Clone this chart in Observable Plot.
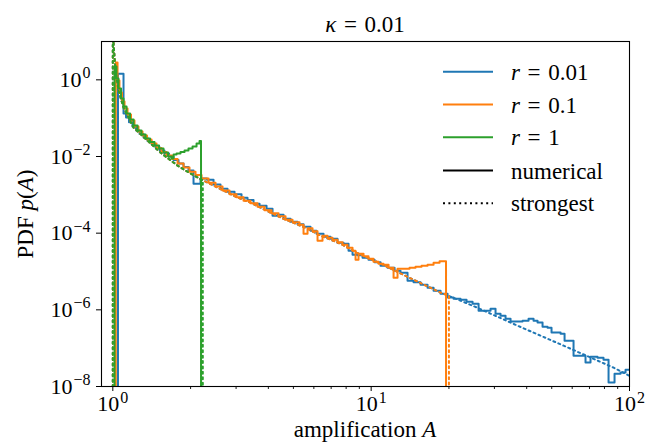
<!DOCTYPE html>
<html><head><meta charset="utf-8">
<script src="https://cdn.jsdelivr.net/npm/d3@7"></script>
<script src="https://cdn.jsdelivr.net/npm/@observablehq/plot@0.6"></script>
<style>body{margin:0;background:#fff} svg{display:block}</style>
</head><body><div id="chart"></div>
<script>
// ---------- data ----------
const kappaText = "0.01";
const rLabels = ["0.01", "0.1", "1"];
const colors = ["#1f77b4", "#ff7f0e", "#2ca02c"];
const xDomain = [0.904, 100];
const yDomain = [1e-8, 10];
const xMajorTicks = [1, 10, 100];
const xMajorExp = ["0", "1", "2"];
const xMinorTicks = [2, 3, 4, 5, 6, 7, 8, 9, 20, 30, 40, 50, 60, 70, 80, 90];
const yMajorTicks = [1, 1e-2, 1e-4, 1e-6, 1e-8];
const yMajorExp = ["0", "\u22122", "\u22124", "\u22126", "\u22128"];

// numerical histograms (left bin edge A, density p)
const blueA = [1.047, 1.047, 1.100, 1.125, 1.155, 1.192, 1.230, 1.269, 1.315, 1.362, 1.412, 1.463, 1.522, 1.585, 1.651, 1.718, 1.796, 1.878, 1.963, 2.053, 2.185, 2.315, 2.454, 2.611, 2.780, 2.959, 3.149, 3.322, 3.505, 3.698, 3.936, 4.152, 4.341, 4.580, 4.875, 5.188, 5.473, 5.825, 6.145, 6.540, 6.961, 7.409, 7.818, 8.174, 8.471, 8.858, 9.262, 9.768, 10.31, 10.87, 11.57, 12.32, 12.99, 13.83, 14.59, 15.53, 16.53, 17.44, 18.56, 19.76, 20.84, 22.18, 23.40, 24.69, 26.05, 27.72, 28.98, 30.30, 31.68, 33.13, 34.64, 36.54, 38.55, 40.67, 42.52, 44.06, 46.07, 48.17, 49.91, 52.19, 54.10, 56.06, 58.08, 60.73, 64.63, 67.57, 70.65, 75.19, 79.32, 82.97, 87.52, 92.33, 96.54, 101];
const blueP = [1e-9, 1.435, 0.132, 0.104, 0.0782, 0.0604, 0.0475, 0.0385, 0.0311, 0.0252, 0.0211, 0.0171, 0.01426, 0.01191, 0.00994, 0.00805, 0.00653, 0.00529, 0.00429, 0.00196, 0.00265, 0.00249, 0.00185, 0.00145, 0.00121, 0.00104, 8.45e-4, 7.28e-4, 5.89e-4, 5.22e-4, 4.36e-4, 2.86e-4, 3.04e-4, 2.39e-4, 2.00e-4, 1.72e-4, 1.48e-4, 1.16e-4, 9.70e-5, 8.10e-5, 7.18e-5, 5.65e-5, 5.32e-5, 3.49e-5, 2.75e-5, 2.67e-5, 2.29e-5, 2.03e-5, 1.75e-5, 1.42e-5, 1.26e-5, 1.05e-5, 9.30e-6, 5.75e-6, 5.26e-6, 4.52e-6, 3.78e-6, 3.15e-6, 2.63e-6, 2.11e-6, 1.95e-6, 1.84e-6, 1.63e-6, 1.44e-6, 9.46e-7, 9.46e-7, 1.07e-6, 7.91e-7, 7.01e-7, 5.86e-7, 4.98e-7, 4.98e-7, 5.19e-7, 5.86e-7, 5.19e-7, 4.69e-7, 3.62e-7, 3.41e-7, 2.57e-7, 2.57e-7, 2.38e-7, 1.56e-7, 1.56e-7, 6.33e-8, 6.33e-8, 4.23e-8, 5.96e-8, 5.61e-8, 4.98e-8, 1.27e-8, 2.15e-8, 2.32e-8, 2.73e-8, 2.73e-8];

const orangeA = [1.027, 1.027, 1.043, 1.061, 1.085, 1.110, 1.140, 1.176, 1.213, 1.257, 1.303, 1.356, 1.412, 1.476, 1.543, 1.614, 1.695, 1.781, 1.878, 1.981, 2.090, 2.205, 2.347, 2.498, 2.659, 2.830, 3.012, 3.206, 3.412, 3.632, 3.866, 4.115, 4.380, 4.662, 4.962, 5.281, 5.473, 5.672, 5.929, 6.200, 6.482, 6.778, 7.086, 7.409, 7.748, 8.100, 8.471, 8.700, 8.935, 9.343, 9.768, 10.21, 10.68, 11.16, 11.68, 12.21, 12.65, 13.35, 14.08, 14.85, 15.67, 16.53, 17.44, 18.40, 19.49];
const orangeP = [1e-9, 2.83, 0.959, 0.466, 0.271, 0.178, 0.124, 0.0866, 0.0604, 0.0447, 0.0352, 0.0276, 0.0217, 0.01656, 0.01303, 0.01055, 0.00855, 0.00653, 0.00513, 0.00403, 0.00327, 0.00265, 0.00208, 0.00164, 0.00129, 0.00104, 8.71e-4, 7.06e-4, 6.07e-4, 4.92e-4, 3.98e-4, 3.33e-4, 2.78e-4, 2.25e-4, 1.94e-4, 1.67e-4, 9.70e-5, 1.35e-4, 1.13e-4, 6.37e-5, 8.61e-5, 7.63e-5, 6.76e-5, 5.82e-5, 5.01e-5, 4.18e-5, 3.49e-5, 2.03e-5, 2.92e-5, 2.51e-5, 2.16e-5, 1.80e-5, 1.60e-5, 1.50e-5, 1.26e-5, 6.89e-6, 1.18e-5, 1.18e-5, 1.26e-5, 1.33e-5, 1.42e-5, 1.50e-5, 1.70e-5, 1.86e-5, 1e-9];

const greenA = [1.015, 1.015, 1.033, 1.052, 1.076, 1.100, 1.130, 1.166, 1.203, 1.246, 1.291, 1.339, 1.393, 1.450, 1.510, 1.571, 1.636, 1.688, 1.718, 1.765, 1.828, 1.895, 1.963, 2.035, 2.109, 2.166, 2.195];
const greenP = [1e-9, 2.22, 1.081, 0.593, 0.325, 0.201, 0.132, 0.0919, 0.0641, 0.0475, 0.0373, 0.0293, 0.0238, 0.0193, 0.01607, 0.01265, 0.00994, 0.00881, 0.01122, 0.01191, 0.01303, 0.01426, 0.01607, 0.01813, 0.0217, 0.0252, 1e-9];

// "strongest" approximation (common curve) and per-series cutoffs
const strongA = [1.0, 1.0, 1.006, 1.024, 1.052, 1.100, 1.203, 1.362, 1.530, 1.781, 2.0, 2.245, 2.683, 3.04, 3.41, 4.08, 4.66, 5.57, 6.37, 7.61, 8.78, 10.9, 13.8, 18.6, 22.2, 25.8, 36.9, 55.6, 86.8, 100];
const strongP = [1e-9, 30, 9.4, 1.75, 0.526, 0.189, 0.0569, 0.0260, 0.01265, 0.00579, 0.00358, 0.00235, 0.00129, 8.45e-4, 6.25e-4, 3.43e-4, 2.25e-4, 1.39e-4, 8.6e-5, 5.3e-5, 3.1e-5, 1.6e-5, 7.3e-6, 2.8e-6, 1.73e-6, 1.13e-6, 3.85e-7, 1.16e-7, 3.1e-8, 1.9e-8];
const cutoffA = [null, 20.0, 2.23];
const cutoffP = [null, 2.35e-6, 0.0024];

// ---------- build ----------
const zip = (A, P) => A.map((a, i) => ({A: a, p: P[i]}));
const hists = [zip(blueA, blueP), zip(orangeA, orangeP), zip(greenA, greenP)];
const strongAll = zip(strongA, strongP);
const strongs = [0, 1, 2].map(k => {
  if (cutoffA[k] === null) return strongAll;
  const pts = strongAll.filter(d => d.A < cutoffA[k]);
  pts.push({A: cutoffA[k], p: cutoffP[k]}, {A: cutoffA[k], p: 1e-9});
  return pts;
});

const FONT = "'Liberation Serif', 'Times New Roman', serif";
const EQ = "\u2004=\u2004";
const expMapX = new Map(xMajorTicks.map((t, i) => [t, xMajorExp[i]]));
const expMapY = new Map(yMajorTicks.map((t, i) => [t, yMajorExp[i]]));

const marks = [];
[0, 1, 2].forEach(k => {
  marks.push(Plot.line(hists[k], {x: "A", y: "p", curve: "step-after", stroke: colors[k], strokeWidth: 2, clip: true}));
  marks.push(Plot.line(strongs[k], {x: "A", y: "p", curve: "linear", stroke: colors[k], strokeWidth: 2, strokeDasharray: "2,3.4", clip: true}));
});
marks.push(Plot.axisX({ticks: xMinorTicks, tickSize: 3, tickFormat: () => "", label: null, strokeWidth: 0.9}));
marks.push(Plot.axisX({ticks: xMajorTicks, tickSize: 5, tickPadding: 4, tickFormat: d => "10^" + expMapX.get(d), label: null, strokeWidth: 1}));
marks.push(Plot.axisY({ticks: yMajorTicks, tickSize: 5, tickPadding: 6, tickFormat: d => "10^" + expMapY.get(d), label: null, strokeWidth: 1}));
marks.push(Plot.frame({stroke: "black", strokeWidth: 1.1}));

const chart = Plot.plot({
  width: 660, height: 444,
  marginLeft: 101, marginRight: 31, marginTop: 41, marginBottom: 58,
  x: {type: "log", domain: xDomain, axis: null},
  y: {type: "log", domain: yDomain, axis: null},
  style: {fontFamily: FONT, fontSize: "22px", color: "black", background: "white", overflow: "visible"},
  marks
});
document.getElementById("chart").appendChild(chart);

const NS = "http://www.w3.org/2000/svg";
// superscript tick labels
chart.querySelectorAll('g[aria-label$="tick label"] text').forEach(t => {
  const s = t.textContent;
  if (!s.includes("^")) return;
  const [b, e] = s.split("^");
  while (t.firstChild) t.removeChild(t.firstChild);
  t.appendChild(document.createTextNode(b));
  const ts = document.createElementNS(NS, "tspan");
  ts.style.fontSize = "16px";
  ts.setAttribute("dy", "-8.5");
  ts.setAttribute("dx", "1");
  ts.textContent = e;
  t.appendChild(ts);
});

const svg = d3.select(chart);
function mathText(parts, attrs, anchor) {
  const t = svg.append("text")
    .style("font-family", FONT).style("font-size", "23px").style("fill", "black")
    .style("text-anchor", anchor);
  Object.entries(attrs).forEach(([k, v]) => t.attr(k, v));
  parts.forEach(([s, it]) => t.append("tspan").style("font-style", it ? "italic" : "normal").text(s));
  return t;
}
// title
mathText([["\u03BA", true], [EQ + kappaText, false]], {x: 365, y: 32}, "middle");
// x label
mathText([["amplification ", false], ["A", true]], {x: 365, y: 437}, "middle");
// y label
mathText([["PDF ", false], ["p", true], ["(", false], ["A", true], [")", false]], {transform: "translate(33,214) rotate(-90)"}, "middle");

// legend
const legend = [
  {parts: [["r", true], [EQ + rLabels[0], false]], color: colors[0], dash: null},
  {parts: [["r", true], [EQ + rLabels[1], false]], color: colors[1], dash: null},
  {parts: [["r", true], [EQ + rLabels[2], false]], color: colors[2], dash: null},
  {parts: [["numerical", false]], color: "black", dash: null},
  {parts: [["strongest", false]], color: "black", dash: "2,3.4"}
];
const legY = [71.7, 104.5, 137.3, 170.5, 203.3];
legend.forEach((it, i) => {
  const l = svg.append("line").attr("x1", 443).attr("x2", 493).attr("y1", legY[i]).attr("y2", legY[i])
    .attr("stroke", it.color).attr("stroke-width", 2);
  if (it.dash) l.attr("stroke-dasharray", it.dash);
  mathText(it.parts, {x: 511, y: legY[i] + 8}, "start");
});
</script>
</body></html>
